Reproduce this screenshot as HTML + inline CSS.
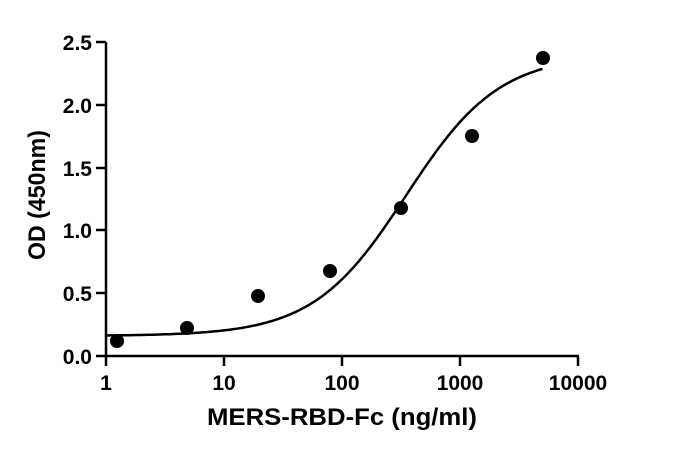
<!DOCTYPE html><html><head><style>body{margin:0;background:#fff}svg text{font-family:"Liberation Sans",Arial,sans-serif;font-weight:bold}</style></head><body>
<svg id="s" width="674" height="457" xmlns="http://www.w3.org/2000/svg">
<g stroke="#000" stroke-width="2.5" fill="none">
<line x1="106" y1="42" x2="106" y2="357"/>
<line x1="105" y1="356" x2="579" y2="356"/>
<line x1="96" y1="42" x2="106" y2="42"/><line x1="96" y1="105" x2="106" y2="105"/><line x1="96" y1="168" x2="106" y2="168"/><line x1="96" y1="230" x2="106" y2="230"/><line x1="96" y1="293" x2="106" y2="293"/><line x1="96" y1="356" x2="106" y2="356"/>
<line x1="106" y1="356" x2="106" y2="366"/><line x1="224" y1="356" x2="224" y2="366"/><line x1="342" y1="356" x2="342" y2="366"/><line x1="460" y1="356" x2="460" y2="366"/><line x1="578" y1="356" x2="578" y2="366"/>
<path id="c" stroke-width="2.5"/>
</g>
<g font-size="21" text-anchor="end">
<text x="92" y="50">2.5</text><text x="92" y="113">2.0</text><text x="92" y="176">1.5</text><text x="92" y="238">1.0</text><text x="92" y="301">0.5</text><text x="92" y="364">0.0</text>
</g>
<g font-size="21" text-anchor="middle">
<text x="106" y="390">1</text><text x="224" y="390">10</text><text x="342" y="390">100</text><text x="460" y="390">1000</text><text x="578" y="390">10000</text>
<text x="342" y="425" font-size="24" textLength="270" lengthAdjust="spacingAndGlyphs">MERS-RBD-Fc (ng/ml)</text>
<text transform="translate(45,195) rotate(-90)" font-size="24" textLength="130" lengthAdjust="spacingAndGlyphs">OD (450nm)</text>
</g>
<g fill="#000">
<circle cx="117" cy="341" r="7"/><circle cx="187" cy="328" r="7"/><circle cx="258" cy="296" r="7"/><circle cx="330" cy="271" r="7"/><circle cx="401" cy="208" r="7"/><circle cx="472" cy="136" r="7"/><circle cx="543" cy="58" r="7"/>
</g>
</svg>
<script>
var d="";for(var i=0;i<=200;i++){var lx=i/200*Math.log10(5000);var x=Math.pow(10,lx);var y=0.16+2.24/(1+Math.pow(350/x,1.1));var px=106+lx*118,py=356-y*125.6;d+=(i?"L":"M")+px.toFixed(1)+" "+py.toFixed(1);}
document.getElementById("c").setAttribute("d",d);
</script>
</body></html>
